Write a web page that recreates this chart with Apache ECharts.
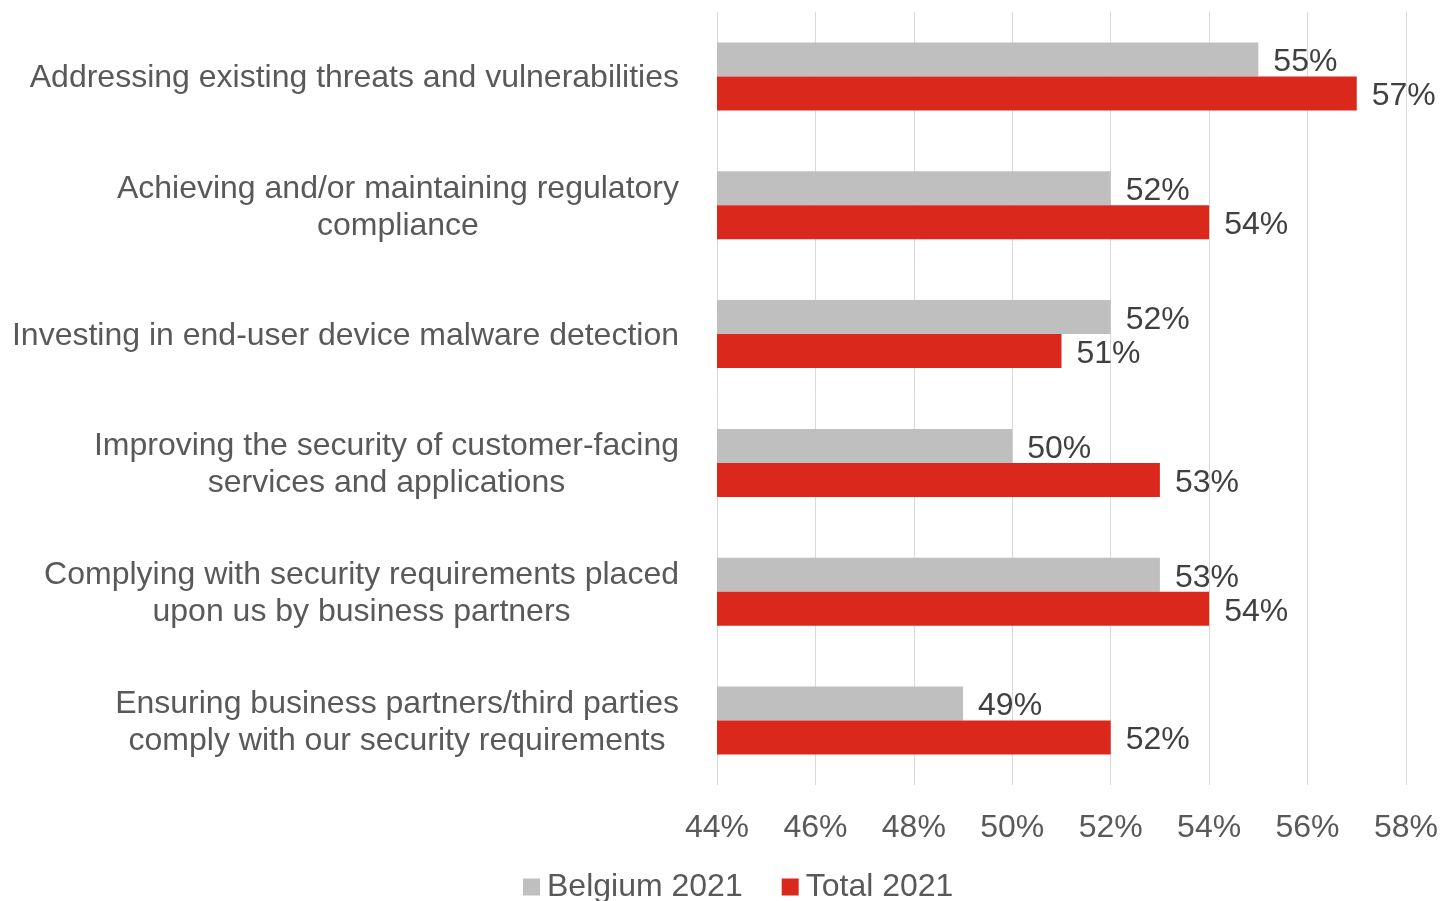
<!DOCTYPE html>
<html>
<head>
<meta charset="utf-8">
<title>Security priorities 2021</title>
<script src="https://cdn.jsdelivr.net/npm/echarts@6/dist/echarts.min.js"></script>
<style>
  html, body { margin: 0; padding: 0; background: #ffffff; }
  #chart { width: 1441px; height: 901px; }
</style>
</head>
<body>
<div id="chart"></div>
<script>
// Priorities, top to bottom
const categories = [
  'Addressing existing threats and vulnerabilities',
  'Achieving and/or maintaining regulatory\ncompliance',
  'Investing in end-user device malware detection',
  'Improving the security of customer-facing\nservices and applications',
  'Complying with security requirements placed\nupon us by business partners',
  'Ensuring business partners/third parties\ncomply with our security requirements'
];
const seriesNames = ['Belgium 2021', 'Total 2021'];
const belgium2021 = [55, 52, 52, 50, 53, 49];
const total2021 = [57, 54, 51, 53, 54, 52];
const xTicks = [44, 46, 48, 50, 52, 54, 56, 58];

const FONT = '"Liberation Sans", Arial, sans-serif';
const FS = 32;
const TEXT = '#595959';
const GREY = '#BFBFBF';
const RED = '#DA291C';

const chart = echarts.init(document.getElementById('chart'), null, { renderer: 'canvas' });

// Multi-line category labels: block is right-aligned to the axis, each line centred within it
const labelRich = {
  c: { align: 'center', fontSize: FS, fontFamily: FONT, color: TEXT, lineHeight: 37 }
};
function categoryLabel(value) {
  return value.split('\n').map(l => '{c|' + l + '}').join('\n');
}

const valueLabel = {
  show: true, position: 'right', distance: 15, offset: [0, 3],
  formatter: '{c}%', fontSize: FS, color: '#404040', fontFamily: FONT
};

chart.setOption({
  animation: false,
  textStyle: { fontFamily: FONT },
  grid: { left: 717, right: 35, top: 12, bottom: 116, containLabel: false },
  legend: {
    data: seriesNames,
    top: 866,
    left: 518,
    itemWidth: 17,
    itemHeight: 17,
    itemGap: 39,
    icon: 'rect',
    textStyle: { fontSize: FS, color: TEXT, fontFamily: FONT, padding: [0, 0, 0, 2] }
  },
  xAxis: {
    type: 'value',
    min: xTicks[0],
    max: xTicks[xTicks.length - 1],
    interval: xTicks[1] - xTicks[0],
    axisLine: { show: false },
    axisTick: { show: false },
    splitLine: { show: true, lineStyle: { color: '#D9D9D9', width: 1 } },
    axisLabel: {
      formatter: v => v + '%',
      fontSize: FS,
      color: TEXT,
      fontFamily: FONT,
      margin: 27
    }
  },
  yAxis: {
    type: 'category',
    data: categories,
    inverse: true,
    axisLine: { show: false },
    axisTick: { show: false },
    splitLine: { show: false },
    axisLabel: {
      formatter: categoryLabel,
      rich: labelRich,
      align: 'right',
      margin: 38,
      padding: [4, 0, 0, 0],
      fontSize: FS,
      color: TEXT,
      fontFamily: FONT,
      lineHeight: 37
    }
  },
  series: [
    {
      name: seriesNames[0],
      type: 'bar',
      data: belgium2021,
      barWidth: 34,
      barGap: '0%',
      itemStyle: { color: GREY },
      label: valueLabel
    },
    {
      name: seriesNames[1],
      type: 'bar',
      data: total2021,
      barWidth: 34,
      barGap: '0%',
      itemStyle: { color: RED },
      label: valueLabel
    }
  ]
});
</script>
</body>
</html>
